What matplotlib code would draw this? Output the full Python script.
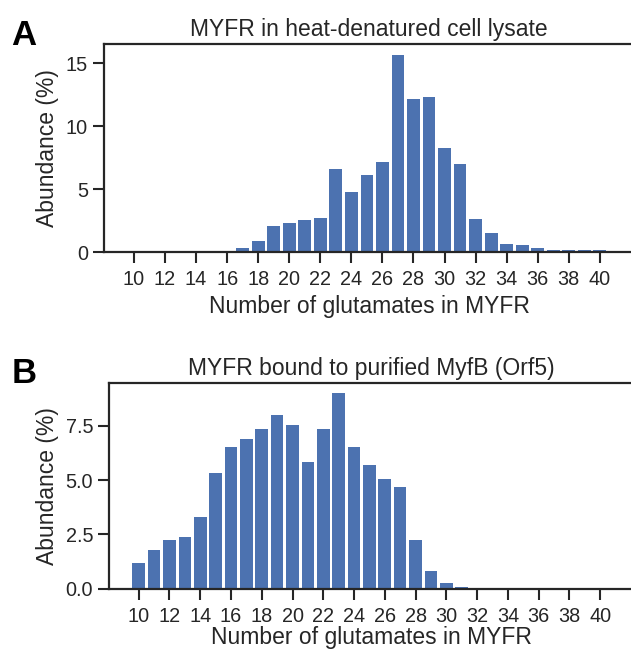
import matplotlib
matplotlib.use('Agg')
import matplotlib.pyplot as plt
import numpy as np

plt.rcParams['font.family'] = ['Liberation Sans', 'DejaVu Sans']
plt.rcParams['text.color'] = '#262626'
plt.rcParams['axes.labelcolor'] = '#262626'
plt.rcParams['xtick.color'] = '#262626'
plt.rcParams['ytick.color'] = '#262626'

# number of glutamates
glu = np.arange(10, 41)
# abundance (%) in heat-denatured lysate
lysate = [0, 0, 0, 0.04, 0.04, 0.04, 0.04, 0.35, 0.9, 2.1, 2.34, 2.58, 2.74, 6.57, 4.81, 6.09,
          7.13, 15.66, 12.15, 12.31, 8.24, 6.97, 2.66, 1.54, 0.66, 0.59, 0.35, 0.19, 0.19, 0.19, 0.19]
# abundance (%) bound to MyfB
bound = [1.19, 1.79, 2.25, 2.39, 3.31, 5.33, 6.52, 6.89, 7.35, 7.99, 7.53, 5.83, 7.35, 9.0, 6.52, 5.70,
         5.05, 4.69, 2.25, 0.83, 0.28, 0.09, 0.02, 0.01, 0, 0, 0, 0, 0, 0, 0]
xticks = list(range(10, 41, 2))

W, H = 631, 652
fig = plt.figure(figsize=(W / 100, H / 100), dpi=100)

panels = [
    ('A', 'MYFR in heat-denatured cell lysate', lysate, (104, 44, 252), 16.54, [0, 5, 10, 15], ['0', '5', '10', '15'], (11, 45), 4),
    ('B', 'MYFR bound to purified MyfB (Orf5)', bound, (109, 383.3, 588.7), 9.45, [0, 2.5, 5, 7.5], ['0.0', '2.5', '5.0', '7.5'], (12, 383), 0),
]
right = 634

for letter, title, vals, (l, t, b), ytop, yt, ytl, (lx, ly), lpad in panels:
    ax = fig.add_axes([l / W, 1 - b / H, (right - l) / W, (b - t) / H])
    ax.bar(glu, vals, width=0.82, color='#4C72B0')
    ax.set_xlim(8.07, 42.2)
    ax.set_ylim(0, ytop)
    ax.set_xticks(xticks)
    ax.set_yticks(yt)
    ax.set_yticklabels(ytl)
    ax.set_xlabel('Number of glutamates in MYFR', fontsize=16.5, labelpad=lpad)
    ax.set_ylabel('Abundance (%)', fontsize=16.5, labelpad=5)
    ax.set_title(title, fontsize=16.5, pad=6)
    ax.tick_params(axis='both', labelsize=14.3, length=8, width=1.5, direction='out')
    ax.tick_params(axis='x', pad=5)
    ax.spines['right'].set_visible(False)
    for s in ['left', 'bottom', 'top']:
        ax.spines[s].set_linewidth(1.6)
        ax.spines[s].set_color('#262626')
    fig.text(lx / W, 1 - ly / H, letter, fontsize=25, fontweight='bold', color='black', va='baseline', ha='left')

fig.savefig('out.png', dpi=100)
